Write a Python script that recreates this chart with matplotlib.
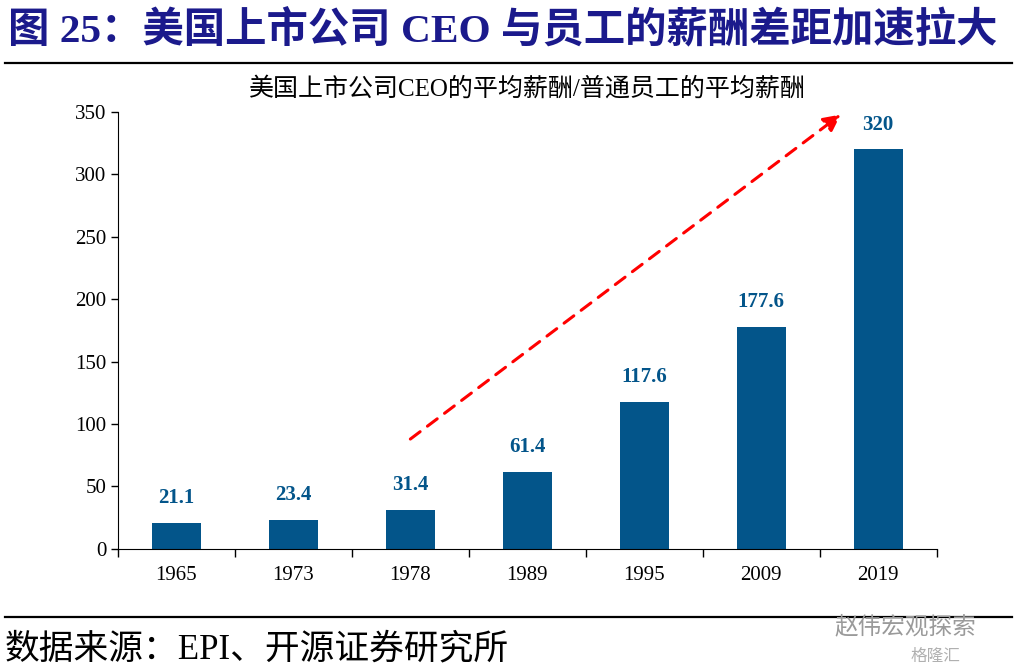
import matplotlib.pyplot as plt
import numpy as np

# donnees
years = ['1965', '1973', '1978', '1989', '1995', '2009', '2019']
ratio = [21.1, 23.4, 31.4, 61.4, 117.6, 177.6, 320]
labels = ['21.1', '23.4', '31.4', '61.4', '117.6', '177.6', '320']

BLUE = '#03558A'
NAVY = '#1B1A8C'
CJK = ['Noto Sans CJK SC', 'DejaVu Sans']
SERIF = ['Liberation Serif', 'Noto Sans CJK SC']

fig = plt.figure(figsize=(10.17, 6.71), dpi=100)

# titre principal + filets
fig.text(0.008, 0.953, '图 25：美国上市公司 CEO 与员工的薪酬差距加速拉大',
         family=SERIF, fontsize=29.8, fontweight='bold', color=NAVY, va='center')
fig.add_artist(plt.Line2D([0.005, 0.995], [0.906, 0.906], color='black', lw=1.6))
fig.add_artist(plt.Line2D([0.005, 0.995], [0.080, 0.080], color='black', lw=1.6))
fig.text(0.005, 0.032, '数据来源：EPI、开源证券研究所', family=SERIF, fontsize=25, va='center')
fig.text(0.820, 0.066, '赵伟宏观探索', family=CJK, fontsize=17, color='#9a9a9a', va='center')
fig.text(0.895, 0.022, '格隆汇', family=CJK, fontsize=12, color='#b0b0b0', va='center')

ax = fig.add_axes([0.116, 0.182, 0.805, 0.651])
x = np.arange(len(years))
ax.bar(x, ratio, width=0.42, color=BLUE, zorder=2)
for xi, v, s in zip(x, ratio, labels):
    ax.text(xi, v + 12, s, ha='center', va='bottom', family=SERIF,
            fontsize=15, fontweight='bold', color=BLUE)

ax.set_xlim(-0.5, len(years) - 0.5)
ax.set_ylim(0, 350)
ax.set_yticks(np.arange(0, 351, 50))
ax.set_xticks(x)
ax.set_xticklabels(years)
ax.set_xticks(np.arange(-0.5, len(years), 1), minor=True)
ax.tick_params(axis='x', which='major', length=0, pad=12)
ax.tick_params(axis='x', which='minor', length=6, direction='out', width=1)
ax.tick_params(axis='y', length=5, direction='out', width=1)
for lab in ax.get_xticklabels() + ax.get_yticklabels():
    lab.set_family(SERIF)
    lab.set_fontsize(15)
ax.spines['top'].set_visible(False)
ax.spines['right'].set_visible(False)

ax.set_title('美国上市公司CEO的平均薪酬/普通员工的平均薪酬', family=SERIF,
             fontsize=18, pad=12)

# fleche rouge de tendance
ax.annotate('', xy=(5.68, 348), xytext=(2.0, 88),
            arrowprops=dict(arrowstyle='-|>,head_length=1.0,head_width=0.5',
                            color='#FF0000', lw=2.2, linestyle=(0, (4, 3)),
                            shrinkA=0, shrinkB=0),
            annotation_clip=False)

plt.savefig('out.png', dpi=100)
